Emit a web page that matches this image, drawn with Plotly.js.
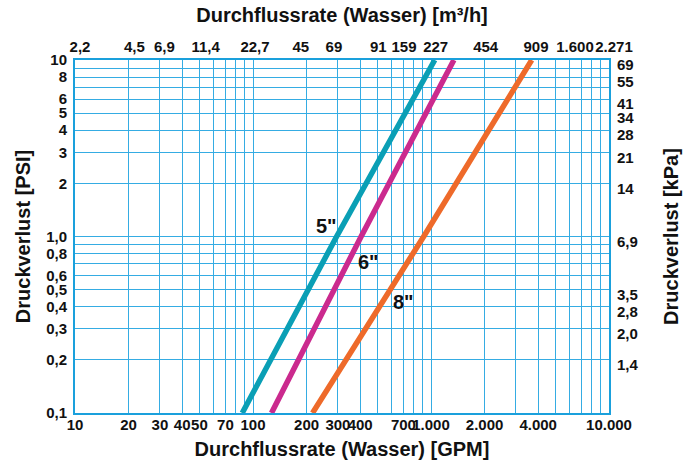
<!DOCTYPE html>
<html>
<head>
<meta charset="utf-8">
<script src="https://cdn.plot.ly/plotly-3.0.1.min.js"></script>
<style>html,body{margin:0;padding:0;background:#fff;}#chart{width:683px;height:464px;}</style>
</head>
<body>
<div id="chart"></div>
<script>
// ---- data ----
var seriesNames = ['5"', '6"', '8"'];
var flow5 = [87, 295, 1050];      // GPM
var loss5 = [0.1, 1, 10];         // PSI
var flow6 = [127, 405, 1345];
var loss6 = [0.1, 1, 10];
var flow8 = [216, 910, 3680];
var loss8 = [0.1, 1, 10];
var seriesColors = ['#0a9fb5', '#cb2a8e', '#ee6a2a'];

// label anchor points for the series names
var labelFlow = [259, 445, 705];
var labelLoss = [1.15, 0.72, 0.428];

// bottom axis (GPM) grid values and labels
var gpmGrid = [10,20,30,40,50,60,70,80,90,100,200,300,400,500,600,700,800,900,1000,2000,3000,4000,5000,6000,7000,8000,9000,10000];
var gpmText = ['10','20','30','40','50','','70','','','100','200','300','400','','','700','','','1.000','2.000','','4.000','','','','','','10.000'];

// top axis (m3/h) labels, placed where the reference prints them (GPM scale)
var m3hPos  = [10,20.2,29.8,50.8,96.2,174,267,474,661,996,1902,3646,6038,10000];
var m3hText = ['2,2','4,5','6,9','11,4','22,7','45','69','91','159','227','454','909','1.600','2.271'];

// left axis (PSI) grid values and labels
var psiGrid = [0.1,0.2,0.3,0.4,0.5,0.6,0.7,0.8,0.9,1,2,3,4,5,6,7,8,9,10];
var psiText = ['0,1','0,2','0,3','0,4','0,5','0,6','','0,8','','1,0','2','3','4','5','6','','8','','10'];

// right axis (kPa) labels at equivalent PSI positions
var kpaPos  = [0.2,0.3,0.4,0.5,1,2,3,4,5,6,8,10];
var kpaText = ['1,4','2,0','2,8','3,5','6,9','14','21','28','34','41','55','69'];

var FONT = '"Liberation Sans Narrow", "Liberation Sans", Arial, sans-serif';
var GRID = '#35ace3';
var LINE = '#1aa0dc';

var flows = [flow5, flow6, flow8];
var losses = [loss5, loss6, loss8];
var traces = [];
for (var i = 0; i < 3; i++) {
  traces.push({
    x: flows[i], y: losses[i], type: 'scatter', mode: 'lines',
    name: seriesNames[i], line: {color: seriesColors[i], width: 5.5},
    xaxis: 'x', yaxis: 'y', hoverinfo: 'skip'
  });
}

var annotations = [];
for (var j = 0; j < 3; j++) {
  annotations.push({
    x: Math.log10(labelFlow[j]), y: Math.log10(labelLoss[j]), xref: 'x', yref: 'y',
    text: '<b>' + seriesNames[j] + '</b>', showarrow: false,
    font: {family: FONT, size: 20, color: '#111'}
  });
}

var tickFont = {family: FONT, size: 15, color: '#111', weight: 'bold'};
var titleFont = {family: FONT, size: 20, color: '#111', weight: 'bold'};

var layout = {
  width: 683, height: 464,
  margin: {l: 75, r: 74, t: 60, b: 51, pad: 0},
  paper_bgcolor: '#fff', plot_bgcolor: '#fff',
  showlegend: false,
  font: {family: FONT, color: '#111'},
  xaxis: {
    type: 'log', range: [1, 4], tickmode: 'array', tickvals: gpmGrid, ticktext: gpmText,
    showgrid: true, gridcolor: GRID, gridwidth: 1, zeroline: false,
    showline: true, linecolor: LINE, linewidth: 2, mirror: true, ticks: '',
    tickfont: tickFont, tickangle: 0, ticklabelstandoff: -3,
    title: {text: '<b>Durchflussrate (Wasser) [GPM]</b>', font: titleFont, standoff: 10}
  },
  xaxis2: {
    type: 'log', range: [1, 4], overlaying: 'x', side: 'top', anchor: 'y',
    tickmode: 'array', tickvals: m3hPos, ticktext: m3hText,
    showgrid: false, zeroline: false, showline: false, ticks: '',
    tickfont: tickFont, tickangle: 0, ticklabelstandoff: 4, ticklabelshift: 5,
    title: {text: '<b>Durchflussrate (Wasser) [m³/h]</b>', font: titleFont, standoff: 10}
  },
  yaxis: {
    type: 'log', range: [-1, 1], tickmode: 'array', tickvals: psiGrid, ticktext: psiText,
    showgrid: true, gridcolor: GRID, gridwidth: 1, zeroline: false,
    showline: true, linecolor: LINE, linewidth: 2, mirror: true, ticks: '',
    tickfont: tickFont, ticklabelstandoff: 3,
    title: {text: '<b>Druckverlust [PSI]</b>', font: titleFont, standoff: 10}
  },
  yaxis2: {
    type: 'log', range: [-1, 1], overlaying: 'y', side: 'right', anchor: 'x',
    tickmode: 'array', tickvals: kpaPos, ticktext: kpaText,
    showgrid: false, zeroline: false, showline: false, ticks: '',
    tickfont: tickFont, ticklabelstandoff: 7, ticklabelshift: 5,
    title: {text: '<b>Druckverlust [kPa]</b>', font: titleFont, standoff: 26}
  },
  annotations: annotations
};

// invisible helper trace so the secondary axes are drawn
traces.push({x: [], y: [], xaxis: 'x2', yaxis: 'y2', type: 'scatter', mode: 'lines', showlegend: false, hoverinfo: 'skip'});

Plotly.newPlot('chart', traces, layout, {displayModeBar: false, staticPlot: true});
</script>
</body>
</html>
